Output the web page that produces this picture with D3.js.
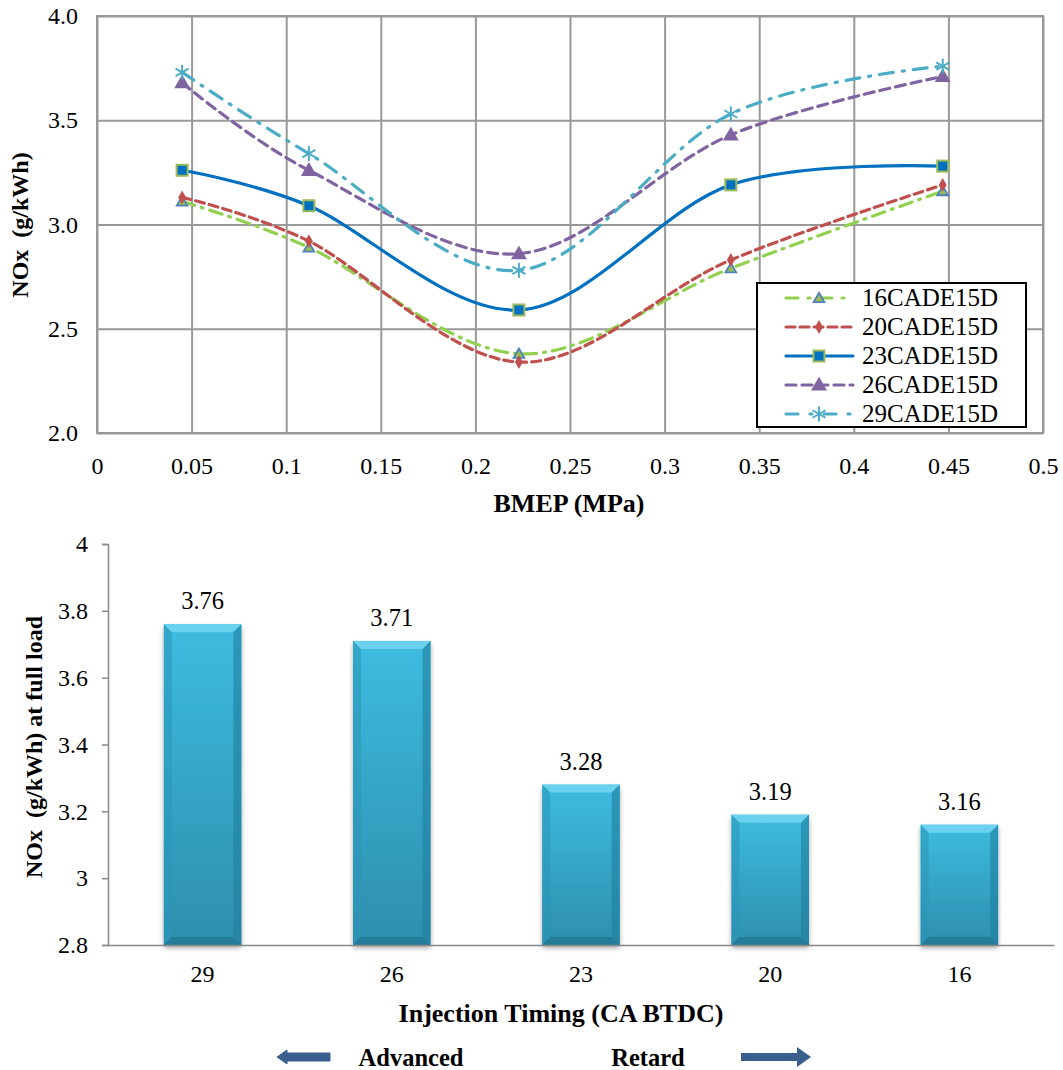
<!DOCTYPE html>
<html><head><meta charset="utf-8">
<script src="https://cdn.jsdelivr.net/npm/d3@7"></script>
<style>
html,body{margin:0;padding:0;background:#fff;}
svg{display:block;}
svg text{font-family:"Liberation Serif","Times New Roman",serif !important;fill:#000;}
</style></head>
<body>
<script>
// ---- Data ----
const bmep = [0.045, 0.112, 0.223, 0.335, 0.447];
const seriesNames = ["16CADE15D","20CADE15D","23CADE15D","26CADE15D","29CADE15D"];
const nox16 = [3.11, 2.89, 2.38, 2.79, 3.16];
const nox20 = [3.13, 2.92, 2.34, 2.83, 3.19];
const nox23 = [3.26, 3.09, 2.59, 3.19, 3.28];
const nox26 = [3.68, 3.26, 2.86, 3.43, 3.71];
const nox29 = [3.73, 3.34, 2.78, 3.53, 3.76];
const xTicks = [0,0.05,0.1,0.15,0.2,0.25,0.3,0.35,0.4,0.45,0.5];
const yTicksTop = [2.0,2.5,3.0,3.5,4.0];

const timing = ["29","26","23","20","16"];
const fullLoad = [3.76, 3.71, 3.28, 3.19, 3.16];
const yTicksBottom = [2.8,3.0,3.2,3.4,3.6,3.8,4.0];

const W = 1063, H = 1070;
const svg = d3.select("body").append("svg").attr("width", W).attr("height", H);
const defs = svg.append("defs");

// ---- Top chart ----
const T = {l:97, t:16, w:946, h:417};
const x = d3.scaleLinear().domain([0,0.5]).range([T.l, T.l+T.w]);
const y = d3.scaleLinear().domain([2,4]).range([T.t+T.h, T.t]);
const gTop = svg.append("g");

gTop.append("g").attr("transform",`translate(0,${T.t+T.h})`)
  .call(d3.axisBottom(x).tickValues(xTicks).tickSize(-T.h).tickFormat(""))
  .call(g=>{g.select(".domain").remove(); g.selectAll("line").attr("stroke","#999").attr("stroke-width",2);});
gTop.append("g").attr("transform",`translate(${T.l},0)`)
  .call(d3.axisLeft(y).tickValues(yTicksTop).tickSize(-T.w).tickFormat(""))
  .call(g=>{g.select(".domain").remove(); g.selectAll("line").attr("stroke","#999").attr("stroke-width",2);});
gTop.append("rect").attr("x",T.l).attr("y",T.t).attr("width",T.w).attr("height",T.h)
  .attr("fill","none").attr("stroke","#999").attr("stroke-width",2);

gTop.append("g").attr("transform",`translate(0,${T.t+T.h})`)
  .call(d3.axisBottom(x).tickValues(xTicks).tickSize(0).tickPadding(24)
    .tickFormat(d=> d===0?"0":String(+d.toFixed(2))))
  .call(g=>{g.select(".domain").remove(); g.selectAll("text").attr("font-size",24);});
gTop.append("g").attr("transform",`translate(${T.l},0)`)
  .call(d3.axisLeft(y).tickValues(yTicksTop).tickSize(0).tickPadding(19).tickFormat(d3.format(".1f")))
  .call(g=>{g.select(".domain").remove(); g.selectAll("text").attr("font-size",24);});

svg.append("text").attr("x",569).attr("y",512).attr("text-anchor","middle")
  .attr("font-size",26).attr("font-weight","bold").text("BMEP (MPa)");
svg.append("text").attr("transform","translate(28,225) rotate(-90)").attr("text-anchor","middle")
  .attr("font-size",24).attr("font-weight","bold").attr("xml:space","preserve").text("NOx  (g/kWh)");

const styles = [
  {vals:nox16, color:"#92D050", dash:"13,7,2,7", ldash:"12,10,2,10", marker:"tri-small"},
  {vals:nox20, color:"#C0504D", dash:"9,5", ldash:"9,5", marker:"diamond"},
  {vals:nox23, color:"#0070C0", dash:null, ldash:null, marker:"square"},
  {vals:nox26, color:"#8064A2", dash:"10,6", ldash:"10,6", marker:"tri-big"},
  {vals:nox29, color:"#4BACC6", dash:"14,9,2,9", ldash:"12,12,2,12", marker:"star"}
];

function drawMarker(g, type, cx, cy){
  const m = g.append("g").attr("transform",`translate(${cx},${cy})`);
  if(type==="tri-small"){
    m.append("path").attr("d",d3.symbol(d3.symbolTriangle,50)()).attr("transform","translate(0,1)")
      .attr("fill","#9BBB59").attr("stroke","#4F81BD").attr("stroke-width",1.8);
  } else if(type==="diamond"){
    m.append("path").attr("d",d3.symbol(d3.symbolDiamond,55)()).attr("fill","#C0504D");
  } else if(type==="square"){
    m.append("rect").attr("x",-5.5).attr("y",-5.5).attr("width",11).attr("height",11)
      .attr("fill","#0070C0").attr("stroke","#9BBB59").attr("stroke-width",2);
  } else if(type==="tri-big"){
    m.append("path").attr("d",d3.symbol(d3.symbolTriangle,110)()).attr("transform","translate(0,1)")
      .attr("fill","#8064A2");
  } else if(type==="star"){
    const r=7.5;
    [[0,-r,0,r],[-r*0.87,-r*0.5,r*0.87,r*0.5],[-r*0.87,r*0.5,r*0.87,-r*0.5]].forEach(l=>{
      m.append("line").attr("x1",l[0]).attr("y1",l[1]).attr("x2",l[2]).attr("y2",l[3])
        .attr("stroke","#4BACC6").attr("stroke-width",2);
    });
  }
}

const line = d3.line().x((d,i)=>x(bmep[i])).y(d=>y(d)).curve(d3.curveCardinal.tension(0));
styles.forEach(s=>{
  const p = gTop.append("path").attr("d", line(s.vals)).attr("fill","none")
    .attr("stroke", s.color).attr("stroke-width",3.2).attr("stroke-linecap","round");
  if(s.dash) p.attr("stroke-dasharray", s.dash);
});
styles.forEach(s=>{
  s.vals.forEach((v,i)=>drawMarker(gTop, s.marker, x(bmep[i]), y(v)));
});

// legend
const L = {x:757, y:283, w:269, h:144};
const gL = svg.append("g");
gL.append("rect").attr("x",L.x).attr("y",L.y).attr("width",L.w).attr("height",L.h)
  .attr("fill","#fff").attr("stroke","#000").attr("stroke-width",2);
styles.forEach((s,i)=>{
  const cy = L.y + 15 + i*29;
  const p = gL.append("line").attr("x1",786).attr("x2",853).attr("y1",cy).attr("y2",cy)
    .attr("stroke",s.color).attr("stroke-width",3.2).attr("stroke-linecap","round");
  if(s.ldash) p.attr("stroke-dasharray", s.ldash);
  drawMarker(gL, s.marker, 819, cy);
  gL.append("text").attr("x",862).attr("y",cy+8).attr("font-size",25).text(seriesNames[i]);
});

// ---- Bottom chart ----
const B = {l:108, r:1054, t:544, b:945};
const xb = d3.scaleBand().domain(timing).range([B.l,B.r]).paddingInner(0.59).paddingOuter(0.295);
const yb = d3.scaleLinear().domain([2.8,4]).range([B.b,B.t]);
const gB = svg.append("g");

gB.append("g").attr("transform",`translate(${B.l},0)`)
  .call(d3.axisLeft(yb).tickValues(yTicksBottom).tickSize(6).tickPadding(14).tickFormat(d=>String(+d.toFixed(1))))
  .call(g=>{g.select(".domain").attr("stroke","#888").attr("stroke-width",1.5);
    g.selectAll("line").attr("stroke","#888").attr("stroke-width",1.5);
    g.selectAll("text").attr("font-size",24);});

const grad = defs.append("linearGradient").attr("id","barGrad").attr("x1",0).attr("y1",0).attr("x2",0).attr("y2",1);
grad.append("stop").attr("offset","0%").attr("stop-color","#3DBCE0");
grad.append("stop").attr("offset","100%").attr("stop-color","#2E8EAD");
const sh = defs.append("filter").attr("id","shadow").attr("x","-20%").attr("y","-10%").attr("width","140%").attr("height","130%");
sh.append("feGaussianBlur").attr("in","SourceAlpha").attr("stdDeviation",2.5);
sh.append("feOffset").attr("dx",0).attr("dy",3).attr("result","ob");
sh.append("feComponentTransfer").append("feFuncA").attr("type","linear").attr("slope",0.35);
const fm = sh.append("feMerge"); fm.append("feMergeNode"); fm.append("feMergeNode").attr("in","SourceGraphic");

const bw = xb.bandwidth(), bev = 8;
timing.forEach((t,i)=>{
  const x0 = xb(t), x1 = x0+bw, y0 = yb(fullLoad[i]), y1 = yb(2.8);
  const g = gB.append("g");
  g.append("rect").attr("x",x0).attr("y",y0).attr("width",bw).attr("height",y1-y0)
    .attr("fill","url(#barGrad)").attr("filter","url(#shadow)");
  g.append("polygon").attr("points",`${x0},${y0} ${x1},${y0} ${x1-bev},${y0+bev} ${x0+bev},${y0+bev}`)
    .attr("fill","#6FD4F0").attr("opacity",0.9);
  g.append("polygon").attr("points",`${x0},${y0} ${x0+bev},${y0+bev} ${x0+bev},${y1-bev} ${x0},${y1}`)
    .attr("fill","#2A95B8").attr("opacity",0.55);
  g.append("polygon").attr("points",`${x1},${y0} ${x1-bev},${y0+bev} ${x1-bev},${y1-bev} ${x1},${y1}`)
    .attr("fill","#1F7E9E").attr("opacity",0.6);
  g.append("polygon").attr("points",`${x0},${y1} ${x0+bev},${y1-bev} ${x1-bev},${y1-bev} ${x1},${y1}`)
    .attr("fill","#1E6F8A").attr("opacity",0.6);
  gB.append("text").attr("x",x0+bw/2).attr("y",y0-15).attr("text-anchor","middle")
    .attr("font-size",24.5).text(fullLoad[i].toFixed(2));
});

gB.append("g").attr("transform",`translate(0,${B.b})`)
  .call(d3.axisBottom(xb).tickSize(0).tickPadding(20))
  .call(g=>{g.select(".domain").attr("stroke","#888").attr("stroke-width",1.5);
    g.selectAll("text").attr("font-size",24);});

svg.append("text").attr("x",561).attr("y",1022).attr("text-anchor","middle")
  .attr("font-size",26).attr("font-weight","bold").text("Injection Timing (CA BTDC)");
svg.append("text").attr("transform","translate(42,747) rotate(-90)").attr("text-anchor","middle")
  .attr("font-size",24).attr("font-weight","bold").attr("xml:space","preserve").text("NOx  (g/kWh) at full load");

const ac = "#3A5F8F";
svg.append("path").attr("d","M277,1057 L287,1050 L287,1053 L330,1053 L330,1061 L287,1061 L287,1064 Z")
  .attr("fill",ac).attr("stroke",ac).attr("stroke-width",1).attr("stroke-linejoin","round");
svg.append("path").attr("d","M741,1053 L797,1053 L797,1047 L811,1057 L797,1067 L797,1061 L741,1061 Z")
  .attr("fill",ac);
svg.append("text").attr("x",411).attr("y",1066).attr("text-anchor","middle")
  .attr("font-size",24.5).attr("font-weight","bold").text("Advanced");
svg.append("text").attr("x",648).attr("y",1066).attr("text-anchor","middle")
  .attr("font-size",24.5).attr("font-weight","bold").text("Retard");
</script>
</body></html>
